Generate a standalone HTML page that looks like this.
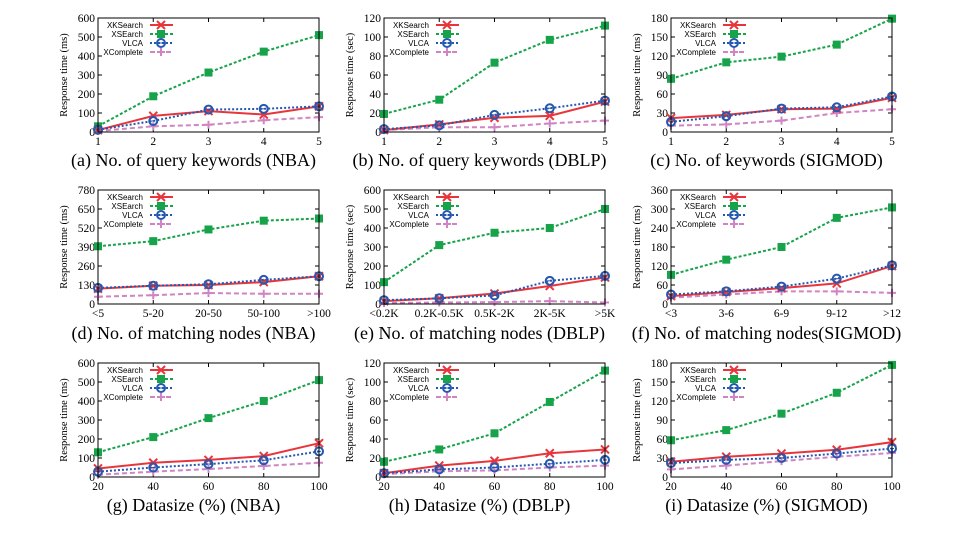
<!DOCTYPE html>
<html><head><meta charset="utf-8">
<style>
body{margin:0;background:#fff;width:953px;height:539px;overflow:hidden}
svg{display:block}
.tk{font-family:"Liberation Serif",serif;font-size:11.5px;fill:#000}
.yl{font-family:"Liberation Serif",serif;font-size:10.5px;fill:#000}
.lg{font-family:"Liberation Sans",sans-serif;font-size:8px;fill:#000}
.cap{font-family:"Liberation Serif",serif;font-size:18px;fill:#000}
</style></head><body>
<svg id="root" width="953" height="539"></svg>
<script>
const series = ["XKSearch","XSEarch","VLCA","XComplete"];
const catsA = ["1","2","3","4","5"];
const catsD = ["<5","5-20","20-50","50-100",">100"];
const catsE = ["<0.2K","0.2K-0.5K","0.5K-2K","2K-5K",">5K"];
const catsF = ["<3","3-6","6-9","9-12",">12"];
const catsG = ["20","40","60","80","100"];
const dataA = [[10,85,110,92,135],[30,188,313,423,510],[12,58,118,122,135],[5,30,38,62,78]];
const dataB = [[2,8,15,17,32],[19,34,73,97,112],[3,7,18,25,33],[2,5,5,9,12]];
const dataC = [[22,27,36,37,54],[84,110,119,138,179],[16,25,37,39,56],[10,12,18,30,36]];
const dataD = [[105,125,130,150,190],[395,430,510,570,585],[110,125,135,165,190],[50,60,75,70,70]];
const dataE = [[15,30,55,95,140],[115,310,375,400,500],[20,30,45,122,148],[5,8,10,15,8]];
const dataF = [[25,38,50,65,120],[92,140,180,272,305],[30,40,55,80,122],[20,30,40,40,35]];
const dataG = [[45,75,90,110,178],[130,210,310,400,510],[28,50,68,88,135],[12,28,42,58,75]];
const dataH = [[4,12,17,25,29],[16,29,46,79,112],[4,8,10,14,18],[3,6,7,10,12]];
const dataI = [[24,32,37,43,55],[58,74,100,133,177],[22,27,30,37,45],[12,18,25,32,38]];
const yMaxes = [600,120,180,780,600,360,600,120,180];
const ySteps = [100,20,30,130,100,60,100,20,30];
const yLabels = ["Response time (ms)","Response time (sec)","Response time (ms)","Response time (ms)","Response time (sec)","Response time (ms)","Response time (ms)","Response time (sec)","Response time (ms)"];
const captions = ["(a) No. of query keywords (NBA)","(b) No. of query keywords (DBLP)","(c) No. of keywords (SIGMOD)","(d) No. of matching nodes (NBA)","(e) No. of matching nodes (DBLP)","(f) No. of matching nodes(SIGMOD)","(g) Datasize (%) (NBA)","(h) Datasize (%) (DBLP)","(i) Datasize (%) (SIGMOD)"];
const NS="http://www.w3.org/2000/svg";
const root=document.getElementById('root');
const colors=["#e8353b","#16a34a","#2458b0","#d184c4"];
const dashes=["","3,2","2,2","5,3"];
function mk(tag,attrs,parent){const e=document.createElementNS(NS,tag);for(const k in attrs)e.setAttribute(k,attrs[k]);parent.appendChild(e);return e;}
function marker(g,s,x,y){
  const c=colors[s];
  if(s===0){mk('path',{d:`M${x-4},${y-4}L${x+4},${y+4}M${x-4},${y+4}L${x+4},${y-4}`,stroke:c,'stroke-width':2,fill:'none'},g);}
  else if(s===1){mk('rect',{x:x-4,y:y-4,width:8,height:8,fill:c},g);}
  else if(s===2){mk('circle',{cx:x,cy:y,r:4,stroke:c,'stroke-width':2,fill:'none'},g);mk('line',{x1:x-2,y1:y,x2:x+2,y2:y,stroke:c,'stroke-width':1},g);}
  else {mk('path',{d:`M${x-4},${y}L${x+4},${y}M${x},${y-4}L${x},${y+4}`,stroke:c,'stroke-width':2,fill:'none'},g);}
}
const charts=[[catsA,dataA],[catsA,dataB],[catsA,dataC],[catsD,dataD],[catsE,dataE],[catsF,dataF],[catsG,dataG],[catsG,dataH],[catsG,dataI]];
const lefts=[98,384,671], tops=[18,190,363], W=221, H=114, capY=[166,339,511];
charts.forEach((ch,i)=>{
  const cats=ch[0], data=ch[1];
  const L=lefts[i%3], T=tops[Math.floor(i/3)];
  const g=mk('g',{},root);
  
  
  const xs=k=>L+k*W/(cats.length-1);
  const ys=v=>T+H-v/yMaxes[i]*H;
  for(let v=0;v<=yMaxes[i];v+=ySteps[i]){
    const y=ys(v);
    mk('line',{x1:L,y1:y,x2:L+4,y2:y,stroke:'#000','stroke-width':1},g);
    mk('line',{x1:L+W-4,y1:y,x2:L+W,y2:y,stroke:'#000','stroke-width':1},g);
    const t=mk('text',{x:L-3,y:y+4,'text-anchor':'end',class:'tk'},g);t.textContent=v;
    
    
  }
  cats.forEach((c,k)=>{
    const x=xs(k);
    mk('line',{x1:x,y1:T+H,x2:x,y2:T+H-4,stroke:'#000'},g);
    mk('line',{x1:x,y1:T,x2:x,y2:T+4,stroke:'#000'},g);
    const t=mk('text',{x:x,y:T+H+13,'text-anchor':'middle',class:'tk'},g);t.textContent=c;
    
    
  });
  const yl=mk('text',{x:0,y:0,transform:`translate(${L-31},${T+H/2}) rotate(-90)`,'text-anchor':'middle',class:'yl'},g);yl.textContent=yLabels[i];
  
  
  [3,1,0,2].forEach(s=>{
    const pts=data[s].map((v,k)=>xs(k)+','+ys(v)).join(' ');
    const pl=mk('polyline',{points:pts,fill:'none',stroke:colors[s],'stroke-width':2,'stroke-dasharray':dashes[s]},g);
    
    
    data[s].forEach((v,k)=>marker(g,s,xs(k),ys(v)));
  });
  series.forEach((n,s)=>{
    const y=T+7+s*9;
    const t=mk('text',{x:L+45,y:y+3,'text-anchor':'end',class:'lg'},g);t.textContent=n;
    
    
    mk('line',{x1:L+52,y1:y,x2:L+75,y2:y,stroke:colors[s],'stroke-width':2,'stroke-dasharray':dashes[s]},g);
    marker(g,s,L+63,y);
  });
  mk('rect',{x:L,y:T,width:W,height:H,fill:'none',stroke:'#000','stroke-width':1},g);
  const cp=mk('text',{x:L+W/2-15,y:capY[Math.floor(i/3)],'text-anchor':'middle',class:'cap'},g);cp.textContent=captions[i];
  
  
});
</script>
</body></html>
